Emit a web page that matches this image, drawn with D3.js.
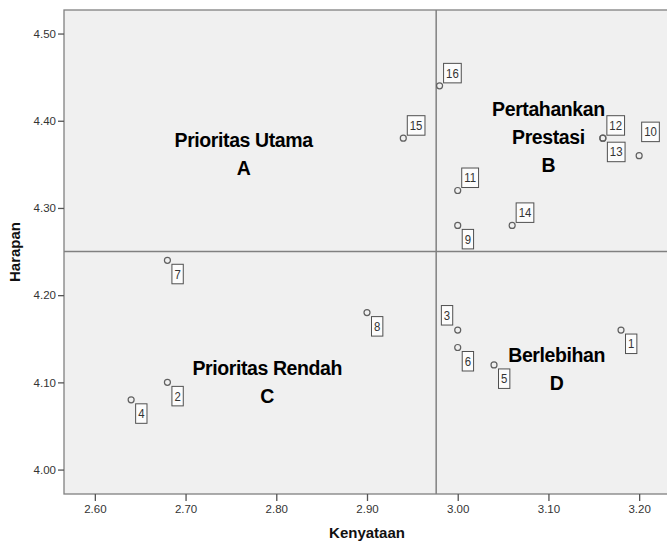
<!DOCTYPE html>
<html>
<head>
<meta charset="utf-8">
<script src="https://cdn.jsdelivr.net/npm/d3@7"></script>
<style>
  body { margin: 0; background: #fff; }
  svg { display: block; font-family: "Liberation Sans", Arial, sans-serif; }
</style>
</head>
<body>
<div id="chart"></div>
<script>
// respondent attributes: kenyataan (x) vs harapan (y)
const ids       = [1, 2, 3, 4, 5, 6, 7, 8, 9, 10, 11, 12, 13, 14, 15, 16];
const kenyataan = [3.18, 2.68, 3.00, 2.64, 3.04, 3.00, 2.68, 2.90, 3.00, 3.20, 3.00, 3.16, 3.16, 3.06, 2.94, 2.98];
const harapan   = [4.16, 4.10, 4.16, 4.08, 4.12, 4.14, 4.24, 4.18, 4.28, 4.36, 4.32, 4.38, 4.38, 4.28, 4.38, 4.44];
// where SPSS put each id box relative to its point
const labelSpot = ["se", "se", "nw", "se", "se", "se", "se", "se", "se", "nn", "ne", "ne", "se", "ne", "ne", "ne"];

const xTicks = [2.60, 2.70, 2.80, 2.90, 3.00, 3.10, 3.20];
const yTicks = [4.00, 4.10, 4.20, 4.30, 4.40, 4.50];
const quadrantText = [
  ["Prioritas Utama", "A"],
  ["Pertahankan", "Prestasi", "B"],
  ["Prioritas Rendah", "C"],
  ["Berlebihan", "D"],
];

const width = 667, height = 542;
const svg = d3.select("#chart").append("svg")
  .attr("width", width)
  .attr("height", height);

let x = d3.scaleLinear().domain([2.566, 3.234]).range([64, 670]);
let y = d3.scaleLinear().domain([3.972, 4.527]).range([494, 10]);

// plot frame
svg.append("rect")
  .attr("x", x.range()[0])
  .attr("y", y.range()[1])
  .attr("width", x.range()[1] - x.range()[0])
  .attr("height", y.range()[0] - y.range()[1])
  .attr("fill", "#f0f0f0")
  .attr("stroke", "#808080")
  .attr("stroke-width", 1.3);

// axes
let fmt = d3.format(".2f");
let xAxis = svg.append("g")
  .attr("transform", `translate(0,${y.range()[0]})`)
  .call(d3.axisBottom(x).tickValues(xTicks).tickFormat(fmt).tickSize(7).tickPadding(4));
let yAxis = svg.append("g")
  .attr("transform", `translate(${x.range()[0]},0)`)
  .call(d3.axisLeft(y).tickValues(yTicks).tickFormat(fmt).tickSize(6).tickPadding(2));
[xAxis, yAxis].forEach((g) => {
  g.select(".domain").remove();
  g.selectAll(".tick line").attr("stroke", "#555").attr("stroke-width", 1.3);
  g.selectAll(".tick text")
    .attr("fill", "#333")
    .style("font-size", "11.5px")
    .style("font-family", "Liberation Sans, Arial, sans-serif");
});

svg.append("text")
  .attr("x", x(2.9))
  .attr("y", 538)
  .attr("text-anchor", "middle")
  .style("font-size", "15px")
  .style("font-weight", "bold")
  .attr("fill", "#111")
  .text("Kenyataan");

svg.append("text")
  .attr("transform", `translate(20,${(y.range()[0] + y.range()[1]) / 2}) rotate(-90)`)
  .attr("text-anchor", "middle")
  .style("font-size", "15px")
  .style("font-weight", "bold")
  .attr("fill", "#111")
  .text("Harapan");

// mean reference lines
let meanX = d3.mean(kenyataan);
let meanY = d3.mean(harapan);
svg.append("line")
  .attr("x1", x(meanX)).attr("x2", x(meanX))
  .attr("y1", y.range()[0]).attr("y2", y.range()[1])
  .attr("stroke", "#808080").attr("stroke-width", 1.5);
svg.append("line")
  .attr("x1", x.range()[0]).attr("x2", x.range()[1])
  .attr("y1", y(meanY)).attr("y2", y(meanY))
  .attr("stroke", "#808080").attr("stroke-width", 1.5);

// quadrant captions (anchor = centre, first baseline)
let quadPos = [[2.764, 4.37], [3.1, 4.405], [2.79, 4.109], [3.109, 4.123]];
quadrantText.forEach((lines, i) => {
  let t = svg.append("text")
    .attr("text-anchor", "middle")
    .style("font-size", "19.5px")
    .style("font-weight", "bold")
    .style("letter-spacing", "-0.4px")
    .attr("fill", "#000");
  lines.forEach((s, j) => {
    t.append("tspan")
      .attr("x", x(quadPos[i][0]))
      .attr("y", y(quadPos[i][1]) + j * 28)
      .text(s);
  });
});

// points
let pts = ids.map((id, i) => ({ id, kx: kenyataan[i], hy: harapan[i], spot: labelSpot[i] }));
svg.append("g")
  .selectAll("circle")
  .data(pts)
  .enter()
  .append("circle")
  .attr("cx", (d) => x(d.kx))
  .attr("cy", (d) => y(d.hy))
  .attr("r", 3)
  .attr("fill", "none")
  .attr("stroke", "#606060")
  .attr("stroke-width", 1.2);

// id boxes
let boxH = 19.5;
let lg = svg.append("g")
  .selectAll("g")
  .data(pts)
  .enter()
  .append("g");
lg.each(function (d) {
  let g = d3.select(this);
  let txt = g.append("text")
    .attr("text-anchor", "middle")
    .attr("dominant-baseline", "central")
    .style("font-size", "12px")
    .attr("fill", "#333")
    .text(d.id);
  let w = txt.node().getComputedTextLength() * 0.95 + 5;
  let px = x(d.kx), py = y(d.hy);
  let left, top;
  if (d.spot === "ne") { left = px + 4; top = py - 3 - boxH; }
  else if (d.spot === "se") { left = px + 4.5; top = py + 4; }
  else if (d.spot === "nw") { left = px - 5 - w; top = py - 5 - boxH; }
  else { left = px + 2.5; top = py - 14 - boxH; }
  g.insert("rect", "text")
    .attr("x", left).attr("y", top)
    .attr("width", w).attr("height", boxH)
    .attr("fill", "#fcfcfc")
    .attr("stroke", "#505050")
    .attr("stroke-width", 1);
  txt.attr("x", left + w / 2).attr("y", top + boxH / 2 + 0.5)
    .attr("textLength", w - 5).attr("lengthAdjust", "spacingAndGlyphs");
});
</script>
</body>
</html>
